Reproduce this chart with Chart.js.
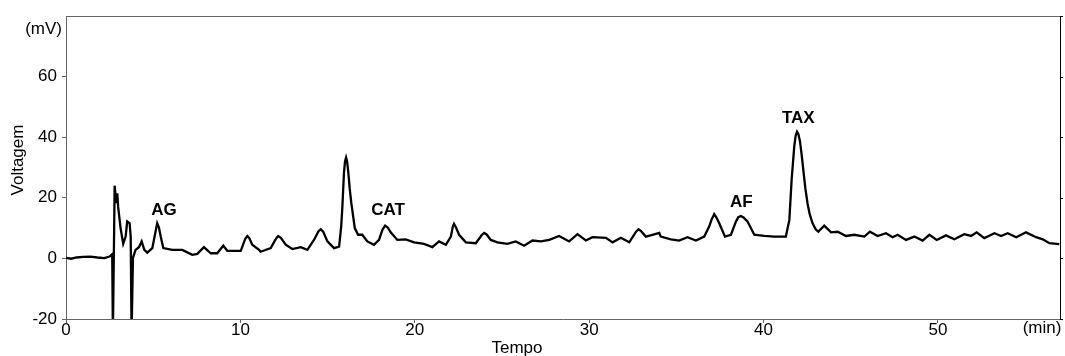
<!DOCTYPE html>
<html>
<head>
<meta charset="utf-8">
<script src="https://cdn.jsdelivr.net/npm/chart.js@4/dist/chart.umd.min.js"></script>
<style>
  html, body { margin: 0; padding: 0; background: #fff; }
  #wrap { width: 1065px; height: 356px; }
</style>
</head>
<body>
<div id="wrap"><canvas id="c" width="1065" height="356"></canvas></div>
<script>
// ---- Data ----
const timeMin = [
  0.0, 0.3, 0.6, 1.0, 1.4, 1.8, 2.2, 2.5, 2.65,
  2.69, 2.79, 2.88, 2.94, 2.99, 3.13, 3.28, 3.42, 3.51, 3.65, 3.71, 3.76, 3.84, 3.99,
  4.18, 4.34, 4.49, 4.66, 4.95, 5.10, 5.23, 5.33, 5.43, 5.58, 6.09, 6.67, 7.24, 7.53, 7.91, 8.30,
  8.67, 9.02, 9.25, 10.02, 10.28, 10.40, 10.52, 10.68, 11.07, 11.16, 11.74, 12.05, 12.17, 12.32, 12.60, 12.98,
  13.46, 13.84, 14.22, 14.48, 14.61, 14.75, 14.99, 15.37, 15.66, 15.78, 15.85, 15.94, 16.00, 16.06, 16.12, 16.19, 16.27, 16.36,
  16.56, 16.75, 16.99, 17.28, 17.66, 17.95, 18.15, 18.30, 18.45, 18.62, 19.00, 19.48, 19.96, 20.53,
  21.01, 21.39, 21.78, 22.07, 22.18, 22.25, 22.36, 22.54, 22.93, 23.50, 23.85, 23.98, 24.12, 24.36, 24.74, 25.31,
  25.79, 26.27, 26.75, 27.23, 27.71, 28.28, 28.85, 29.33, 29.81, 30.19, 30.96, 31.34,
  31.82, 32.30, 32.70, 32.83, 32.98, 33.25, 33.63, 34.02, 34.11, 34.69, 35.16, 35.64, 36.12, 36.60,
  36.88, 37.02, 37.17, 37.30, 37.46, 37.79, 38.13, 38.42, 38.55, 38.70, 38.85, 39.08, 39.47, 40.04, 40.61, 41.28,
  41.48, 41.61, 41.76, 41.84, 41.92, 42.00, 42.09, 42.18, 42.28, 42.40, 42.52, 42.65, 42.81, 43.00, 43.14, 43.48, 43.87, 44.25,
  44.73, 45.20, 45.78, 46.10, 46.54, 47.02, 47.40, 47.69, 48.17, 48.65, 49.12, 49.51,
  49.93, 50.46, 50.94, 51.51, 51.90, 52.22, 52.66, 53.24, 53.62, 54.00, 54.49, 55.05,
  55.63, 56.01, 56.39, 56.96
];
const voltageMV = [
  0.2, -0.1, 0.3, 0.5, 0.6, 0.3, 0.1, 0.6, 1.4,
  -25, 24, 18.2, 21.5, 17, 10, 4.8, 7.2, 12.2, 11.6, 7.2, -25, 0.2, 2.8,
  3.7, 5.6, 2.8, 1.9, 3.4, 7.8, 11.6, 10.2, 7.2, 3.4, 2.8, 2.8, 1.2, 1.5, 3.7, 1.7,
  1.7, 4.2, 2.5, 2.5, 6.5, 7.4, 6.6, 4.5, 2.8, 2.2, 3.4, 6.6, 7.4, 6.8, 4.5, 3.1,
  3.7, 2.8, 6.1, 9.0, 9.6, 8.8, 5.6, 3.4, 3.9, 10.5, 17.2, 28.3, 32.0, 33.3, 32.0, 28.3, 23.0, 18.3,
  10, 7.8, 7.8, 5.6, 4.5, 6.1, 9.5, 10.8, 10.2, 8.6, 6.1, 6.3, 5.3, 4.8,
  3.7, 5.6, 4.5, 7.2, 10.4, 11.4, 10.3, 7.8, 5.3, 5.0, 7.8, 8.4, 7.9, 6.1, 5.3, 4.8,
  5.6, 4.2, 5.9, 5.6, 6.1, 7.4, 5.6, 8.0, 5.9, 7.0, 6.8, 5.3,
  6.8, 5.3, 8.9, 9.6, 9.0, 7.2, 7.8, 8.4, 7.2, 6.3, 5.9, 7.0, 5.9, 7.2,
  10.5, 12.8, 14.6, 13.5, 11.6, 7.2, 7.8, 12.2, 13.6, 14.0, 13.5, 12.2, 7.8, 7.4, 7.2, 7.2,
  12.7, 25.9, 36.9, 40.5, 41.8, 41.0, 38.6, 34.5, 29.2, 23.0, 18.2, 14.5, 11.6, 9.5, 8.8, 10.8, 8.6, 8.8,
  7.4, 7.8, 7.2, 8.8, 7.4, 8.3, 7.0, 7.8, 6.1, 7.2, 5.9, 7.8,
  6.1, 7.6, 6.3, 8.0, 7.4, 8.6, 6.7, 8.3, 7.4, 8.3, 7.0, 8.6,
  7.0, 6.3, 5.0, 4.7
];
const xTicks = [0, 10, 20, 30, 40, 50];
const yTicks = [-20, 0, 20, 40, 60];
const peakNames = ['AG', 'CAT', 'AF', 'TAX'];
const peakLabelX = [5.62, 18.47, 38.72, 41.99];
const peakLabelY = [16.0, 16.0, 18.6, 46.3];

const points = timeMin.map((t, i) => ({ x: t, y: voltageMV[i] }));

const overlay = {
  id: 'overlay',
  afterDraw(chart) {
    const { ctx, chartArea: a, scales } = chart;
    const xs = scales.x, ys = scales.y;
    ctx.save();
    // top and right frame
    ctx.strokeStyle = '#666';
    ctx.lineWidth = 1;
    ctx.beginPath();
    ctx.moveTo(a.left, a.top + 0.5);
    ctx.lineTo(a.right, a.top + 0.5);
    ctx.stroke();
    ctx.strokeStyle = '#000';
    ctx.beginPath();
    ctx.moveTo(a.right + 0.5, a.top);
    ctx.lineTo(a.right + 0.5, a.bottom);
    ctx.stroke();
    [80].concat(yTicks).forEach(v => {
      const y = Math.round(ys.getPixelForValue(v)) + 0.5;
      ctx.beginPath();
      ctx.moveTo(a.right, y);
      ctx.lineTo(a.right + 3, y);
      ctx.stroke();
    });
    // peak labels
    ctx.fillStyle = '#000';
    ctx.font = 'bold 17px "Liberation Sans", Arial, sans-serif';
    ctx.textAlign = 'center';
    ctx.textBaseline = 'middle';
    peakNames.forEach((n, i) => {
      ctx.fillText(n, xs.getPixelForValue(peakLabelX[i]), ys.getPixelForValue(peakLabelY[i]));
    });
    // units and axis titles
    ctx.font = '17px "Liberation Sans", Arial, sans-serif';
    ctx.textAlign = 'right';
    ctx.fillText('(mV)', 62, 29);
    ctx.textAlign = 'center';
    ctx.fillText('(min)', 1042, 328);
    ctx.fillText('Tempo', 517, 348);
    ctx.translate(18.5, 160);
    ctx.rotate(-Math.PI / 2);
    ctx.fillText('Voltagem', 0, 0);
    ctx.restore();
  }
};

new Chart(document.getElementById('c'), {
  type: 'line',
  data: {
    datasets: [{
      data: points,
      borderColor: '#000',
      borderWidth: 2.3,
      pointRadius: 0,
      tension: 0,
      fill: false
    }]
  },
  options: {
    responsive: false,
    animation: false,
    events: [],
    layout: { padding: { left: 0, top: 16, right: 5, bottom: 0 } },
    plugins: { legend: { display: false }, tooltip: { enabled: false } },
    scales: {
      x: {
        type: 'linear',
        min: 0, max: 57,
        afterBuildTicks: s => { s.ticks = xTicks.map(v => ({ value: v })); },
        afterFit: s => { s.height = 37; },
        border: { color: '#666', width: 1 },
        grid: { drawOnChartArea: false, tickLength: 4, color: '#666' },
        ticks: { color: '#000', padding: -3, maxRotation: 0,
                 font: { size: 17, family: '"Liberation Sans", Arial, sans-serif' } }
      },
      y: {
        type: 'linear',
        min: -20, max: 80,
        afterBuildTicks: s => { s.ticks = yTicks.map(v => ({ value: v })); },
        afterFit: s => { s.width = 66; },
        border: { color: '#666', width: 1 },
        grid: { drawOnChartArea: false, tickLength: 4, color: '#666' },
        ticks: { color: '#000', padding: 5,
                 font: { size: 17, family: '"Liberation Sans", Arial, sans-serif' } }
      }
    }
  },
  plugins: [overlay]
});
</script>
</body>
</html>
